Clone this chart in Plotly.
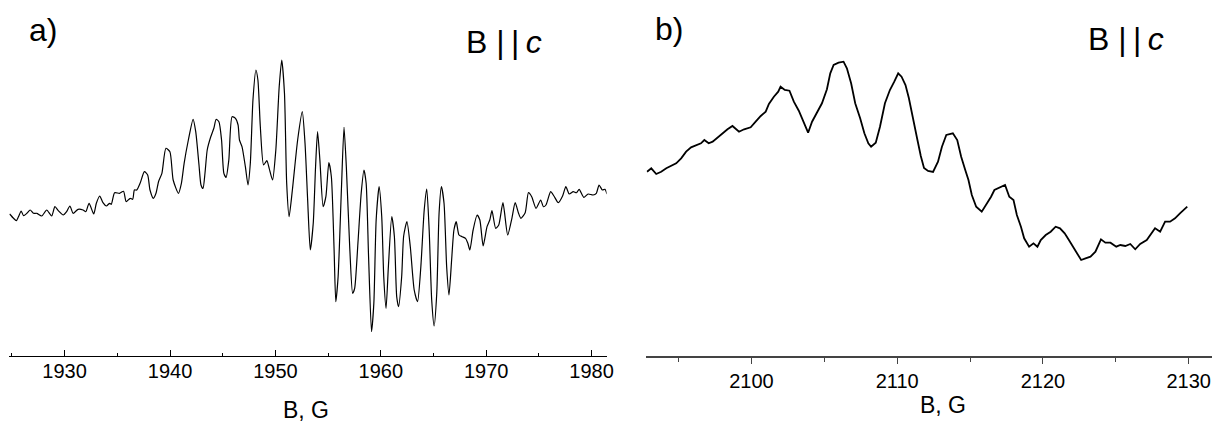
import plotly.graph_objects as go

# Panel a: field (G) and derivative signal (arb. units)
field_a = [1924.78, 1925.15, 1925.41, 1925.62, 1925.88, 1926.10, 1926.42, 1926.73, 1927.04, 1927.36,
           1927.83, 1928.30, 1928.77, 1929.08, 1929.40, 1929.87, 1930.19, 1930.50, 1930.81, 1931.28,
           1931.75, 1932.01, 1932.32, 1932.76, 1933.01, 1933.33, 1933.64, 1933.96, 1934.27, 1934.43,
           1934.74, 1935.21, 1935.59, 1935.84, 1936.22, 1936.46, 1936.62, 1936.84, 1937.16, 1937.57,
           1937.88, 1938.10, 1938.42, 1938.67, 1938.91, 1939.23, 1939.61, 1939.99, 1940.30, 1940.80,
           1941.08, 1941.34, 1941.74, 1942.19, 1942.44, 1942.75, 1942.94, 1943.13, 1943.32, 1943.53,
           1943.85, 1944.16, 1944.38, 1944.64, 1944.89, 1945.11, 1945.32, 1945.58, 1945.89, 1946.21,
           1946.46, 1946.59, 1946.83, 1947.15, 1947.40, 1947.62, 1947.87, 1948.15, 1948.34, 1948.57,
           1948.88, 1949.19, 1949.41, 1949.73, 1950.04, 1950.36, 1950.60, 1950.86, 1951.07, 1951.30,
           1951.61, 1952.11, 1952.55, 1952.81, 1953.06, 1953.31, 1953.59, 1953.81, 1954.00, 1954.22,
           1954.53, 1954.79, 1955.07, 1955.31, 1955.57, 1955.73, 1955.95, 1956.26, 1956.51, 1956.73,
           1957.05, 1957.33, 1957.52, 1957.83, 1958.14, 1958.40, 1958.61, 1958.84, 1959.12, 1959.34,
           1959.56, 1959.84, 1960.09, 1960.28, 1960.50, 1960.72, 1961.04, 1961.29, 1961.51, 1961.69,
           1961.98, 1962.17, 1962.48, 1962.80, 1963.17, 1963.49, 1963.80, 1964.12, 1964.36, 1964.59,
           1964.83, 1965.06, 1965.31, 1965.53, 1965.75, 1966.00, 1966.25, 1966.47, 1966.72, 1966.94,
           1967.16, 1967.42, 1967.73, 1968.04, 1968.26, 1968.45, 1968.76, 1969.14, 1969.40, 1969.71,
           1970.08, 1970.34, 1970.55, 1970.90, 1971.19, 1971.59, 1972.04, 1972.44, 1972.75, 1973.07,
           1973.29, 1973.70, 1974.01, 1974.32, 1974.73, 1975.17, 1975.43, 1975.67, 1976.12, 1976.43,
           1976.84, 1977.25, 1977.56, 1977.88, 1978.26, 1978.57, 1978.82, 1979.26, 1979.67, 1980.14,
           1980.45, 1980.71, 1981.02, 1981.27, 1981.46]
signal_a = [36, 31.7, 29.3, 33.3, 39, 34.3, 36.7, 40, 36.7, 36.7,
            34, 40, 34, 43.3, 39.3, 35, 38.3, 44, 36.7, 40.7,
            40, 38.3, 46.7, 36, 46.7, 54, 47.3, 44, 46.7, 45.7,
            57.3, 56.7, 58.7, 48.3, 51.7, 50.7, 60, 60, 66.7, 78.3,
            75, 60, 51.7, 56.7, 68.3, 76.7, 101.7, 98.3, 70, 56.7,
            66.7, 86.7, 110, 130.7, 118.3, 85, 65, 61.5, 77, 100,
            112.7, 121.7, 130.7, 128.3, 110, 76.7, 72.7, 90, 133.3, 131.7,
            125, 110, 103.3, 83.3, 65, 86.7, 150, 180, 170, 123.3,
            85, 89.3, 81.7, 70, 100, 163.3, 190, 156.7, 66.7, 33.3,
            60, 110, 138.3, 106.7, 50, 0, 26.7, 83.3, 118.3, 90,
            43.3, 53.3, 87.3, 73.3, 0, -51.7, -26.7, 60, 122.7, 83.3,
            3.3, -43.3, -38.3, 6.7, 56.7, 80, 66.7, -6.7, -81.7, -53.3,
            30, 63.3, 33.3, -26.7, -58.3, -16.7, 33.3, 13.3, -46.7, -56.7,
            -26.7, 14, 28.3, 3.3, -40, -51.7, -16.7, 40, 61, 20,
            -50, -76, -43.3, 36.7, 63.3, 46.7, -16.7, -45, -10, 20,
            28.3, 15, 13.3, 11.7, 6.7, 0, 20, 35, 30, 4,
            23.3, 30, 39.3, 21.7, 25, 47.3, 15, 31.7, 47.3, 36.7,
            31.7, 37.3, 57.3, 53.3, 41.7, 50, 43.3, 45, 58.3, 54,
            47.3, 54, 63.3, 56, 58.3, 57.3, 60.7, 52.7, 56, 55,
            56.7, 65, 60, 60.7, 56]

# Panel b
field_b = [2092.84, 2093.13, 2093.47, 2093.81, 2094.16, 2094.50, 2094.84, 2095.18, 2095.52, 2095.86,
           2096.20, 2096.54, 2096.77, 2097.07, 2097.34, 2097.68, 2098.02, 2098.36, 2098.70, 2098.88,
           2099.15, 2099.50, 2099.95, 2100.29, 2100.64, 2100.98, 2101.20, 2101.54, 2101.84, 2102.00,
           2102.29, 2102.61, 2102.91, 2103.25, 2103.59, 2103.89, 2104.16, 2104.50, 2104.84, 2105.18,
           2105.41, 2105.64, 2105.98, 2106.32, 2106.55, 2106.84, 2107.12, 2107.46, 2107.75, 2108.02,
           2108.21, 2108.53, 2108.82, 2109.16, 2109.50, 2109.80, 2110.07, 2110.30, 2110.57, 2110.80,
           2110.98, 2111.21, 2111.39, 2111.62, 2111.84, 2112.12, 2112.46, 2112.80, 2113.07, 2113.37,
           2113.82, 2114.12, 2114.39, 2114.67, 2114.89, 2115.12, 2115.42, 2115.80, 2116.10, 2116.44,
           2116.67, 2117.01, 2117.40, 2117.69, 2117.98, 2118.21, 2118.49, 2118.71, 2119.05, 2119.35,
           2119.62, 2119.85, 2120.19, 2120.53, 2120.87, 2121.17, 2121.49, 2121.78, 2122.07, 2122.31,
           2122.62, 2122.92, 2123.26, 2123.60, 2123.98, 2124.28, 2124.63, 2125.03, 2125.31, 2125.65,
           2125.99, 2126.33, 2126.67, 2127.12, 2127.46, 2127.69, 2128.04, 2128.38, 2128.72, 2129.06,
           2129.40, 2129.74, 2129.90]
signal_b = [78.3, 81.7, 76, 78.3, 81.7, 84, 86.7, 91.7, 98.3, 102.7,
            105, 106.7, 110, 106.7, 108.3, 112.7, 117.3, 120.7, 124, 121.7,
            118.3, 120.7, 122.7, 128.3, 134, 138.3, 146, 153.3, 158.3, 163.3,
            160, 159.3, 148.3, 139.3, 128.3, 117.3, 128.3, 138.3, 146.7, 160.7,
            176.7, 185, 187.3, 188.3, 181.7, 166.7, 146.7, 131.7, 116.7, 106.7,
            103.3, 107.3, 123.3, 146.7, 160, 168.3, 176.7, 173.3, 165, 152,
            138, 122, 110, 94, 82, 79, 78, 88.3, 103.3, 115,
            116.7, 110, 93.3, 80, 70, 55, 43.3, 38.3, 45, 53.3,
            60, 62.7, 65, 53.3, 50, 35, 23.3, 11.7, 3.3, 6.7,
            3.3, 10, 15, 18.3, 23.3, 21.7, 16.7, 10, 3.3, -3.3,
            -10, -8.3, -6.7, -1.7, 10.7, 7.3, 7.3, 3.3, 5, 4,
            6, 0.7, 6, 10, 16.7, 21.7, 18.3, 28.3, 28.3, 31.7,
            36.7, 41.7, 43.3]

ticks_a = [1930, 1940, 1950, 1960, 1970, 1980]
ticks_b = [2100, 2110, 2120, 2130]

# The page body has an 8 px margin, so the figure is drawn at (8, 8)
OFF = 8
FW, FH = 1227 - OFF, 425 - OFF
FONT = "Liberation Sans, Arial, sans-serif"


def px(x):
    return (x - OFF) / FW


def py(y):
    return 1 - (y - OFF) / FH


fig = go.Figure()
fig.add_trace(go.Scatter(x=field_a, y=signal_a, mode="lines", xaxis="x", yaxis="y",
                         line=dict(color="black", width=1.2, shape="spline", smoothing=0.6),
                         showlegend=False, hoverinfo="skip"))
fig.add_trace(go.Scatter(x=field_b, y=signal_b, mode="lines", xaxis="x2", yaxis="y2",
                         line=dict(color="black", width=1.8),
                         showlegend=False, hoverinfo="skip"))

fig.update_layout(
    width=FW, height=FH,
    margin=dict(l=0, r=0, t=0, b=0),
    paper_bgcolor="white", plot_bgcolor="white",
    font=dict(family=FONT, color="black", size=20),
    xaxis=dict(domain=[px(9.3), px(610)], range=[1924.75, 1981.42],
               anchor="free", position=py(356),
               showline=True, linecolor="black", linewidth=1.3,
               ticks="inside", ticklen=6, tickwidth=1.3, tickcolor="black",
               tickvals=ticks_a, ticktext=[str(t) for t in ticks_a],
               ticklabelstandoff=-3,
               minor=dict(ticks="inside", ticklen=3, tickwidth=1.3, tickcolor="black", dtick=5),
               showgrid=False, zeroline=False, tickfont=dict(size=20, family=FONT)),
    yaxis=dict(domain=[0, 1], range=[-175, 242], visible=False, anchor="free", position=0),
    xaxis2=dict(domain=[px(650), px(1219)], range=[2092.79, 2131.6],
                anchor="free", position=py(356.7),
                showline=True, linecolor="#444444", linewidth=2,
                ticks="outside", ticklen=6, tickwidth=1.3, tickcolor="#444444",
                tickvals=ticks_b, ticktext=[str(t) for t in ticks_b],
                minor=dict(ticks="outside", ticklen=4, tickwidth=1.3, tickcolor="#444444", dtick=5),
                showgrid=False, zeroline=False, tickfont=dict(size=20, family=FONT)),
    yaxis2=dict(domain=[0, 1], range=[-175, 242], visible=False, anchor="free", position=0),
)


def label(text, x, y, size, xanchor="center"):
    fig.add_annotation(text=text, x=px(x), y=py(y), xref="paper", yref="paper",
                       xanchor=xanchor, yanchor="middle", showarrow=False,
                       font=dict(size=size, family=FONT, color="black"))


label("a)", 27, 30, 32, "left")
label("B |\u2009|\u2009<i>c</i>", 467, 42, 32, "left")
label("b)", 657, 29, 32, "left")
label("B |\u2009|\u2009<i>c</i>", 1092, 39, 32, "left")
label("B, G", 308, 410, 23)
label("B, G", 948, 405, 23)

fig.write_html("out.html")
